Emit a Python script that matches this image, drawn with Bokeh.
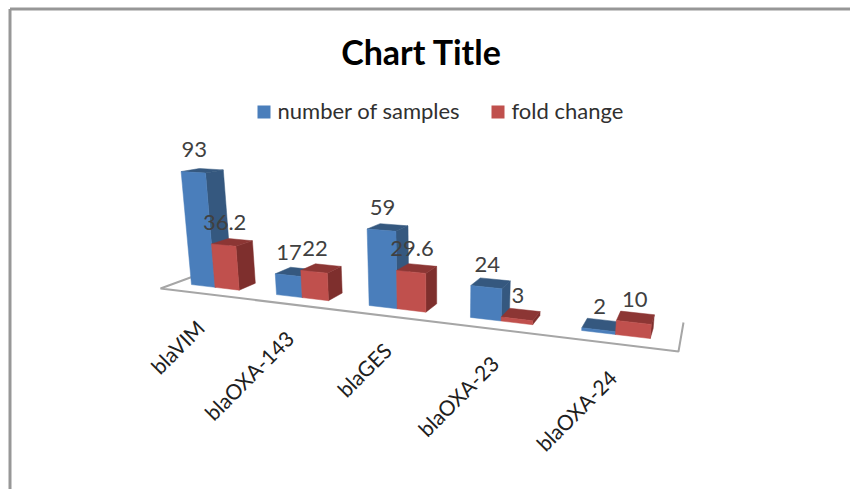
from bokeh.plotting import figure
from bokeh.models import Range1d
from bokeh.embed import file_html
from bokeh.resources import INLINE
from bokeh.core.properties import value
import numpy as np

# ---- chart data ----
categories = ["blaVIM", "blaOXA-143", "blaGES", "blaOXA-23", "blaOXA-24"]
number_of_samples = [93, 17, 59, 24, 2]
fold_change = [36.2, 22, 29.6, 3, 10]
value_labels_a = ["93", "17", "59", "24", "2"]
value_labels_b = ["36.2", "22", "29.6", "3", "10"]
legend_names = ["number of samples", "fold change"]
chart_title = "Chart Title"

# ---- 3-D view: floor corners on the page and the vertical vanishing point ----
FONT = "Lato"
FLOOR_SRC = [(0, 0), (5, 0), (5, 1), (0, 1)]
FLOOR_DST = [(160, 288), (678, 351), (683, 322), (209, 270)]
BLUE = ("#4A7EBB", "#35587F", "#35587F")
RED = ("#C0504D", "#7E2F2D", "#8C3634")
GAP = 1.5
D0, D1 = 0.30, 0.66
U_SHIFT = -0.025


def homography(src, dst):
    A, b = [], []
    for (u, v), (x, y) in zip(src, dst):
        A.append([u, v, 1, 0, 0, 0, -u * x, -v * x])
        A.append([0, 0, 0, u, v, 1, -u * y, -v * y])
        b += [x, y]
    h = np.linalg.solve(np.array(A, float), np.array(b, float))
    return np.append(h, 1).reshape(3, 3)


H = homography(FLOOR_SRC, FLOOR_DST)
W0 = (H @ np.array([0.5, 0.5, 1]))[2]
VERT = -np.array([440.0, 3000.0, 1.0]) * (1.17 * W0 / (3000.0 - 260.0))


def project(u, d, z):
    q = H @ np.array([u, d, 1.0]) + z * VERT
    return q[0] / q[2], q[1] / q[2]


def box(u0, u1, z):
    c = project
    front = [c(u0, D0, 0), c(u1, D0, 0), c(u1, D0, z), c(u0, D0, z)]
    side = [c(u1, D0, 0), c(u1, D1, 0), c(u1, D1, z), c(u1, D0, z)]
    top = [c(u0, D0, z), c(u1, D0, z), c(u1, D1, z), c(u0, D1, z)]
    return front, side, top


p = figure(width=850, height=489, output_backend="svg", toolbar_location=None,
           x_range=Range1d(0, 850), y_range=Range1d(489, 0), min_border=0,
           outline_line_color=None, background_fill_color="white", border_fill_color="white")
p.axis.visible = False
p.grid.visible = False

# chart frame
p.line([9.5, 9.5], [489, 8.5], line_color="#979797", line_width=3)
p.line([9.5, 850], [8.5, 8.5], line_color="#979797", line_width=3)

# floor
floor = [project(0, 1, 0), project(0, 0, 0), project(5, 0, 0), project(5, 1, 0)]
p.line([q[0] for q in floor], [q[1] for q in floor], line_color="#A6A6A6", line_width=2)

# bars
bw = 1 / (2 + GAP)
off = GAP * bw / 2 + U_SHIFT
labels = []
for i, (a, b) in enumerate(zip(number_of_samples, fold_change)):
    for k, (val, cols, txt) in enumerate(((a, BLUE, value_labels_a[i]), (b, RED, value_labels_b[i]))):
        u0 = i + off + k * bw
        u1 = u0 + bw
        front, side, top = box(u0, u1, val)
        for face, col in ((side, cols[1]), (top, cols[2]), (front, cols[0])):
            p.patch([q[0] for q in face], [q[1] for q in face], fill_color=col, line_color=col, line_width=0.5)
        cx, cy = project((u0 + u1) / 2, D0, val)
        labels.append((cx + 1, cy - 23, txt))

p.text([l[0] for l in labels], [l[1] for l in labels], text=[l[2] for l in labels],
       text_font=value(FONT), text_font_size="22px", text_color="#404040",
       text_align="center", text_baseline="middle")

# category labels
cat_pts = [project(i + 0.5, 0, 0) for i in range(len(categories))]
p.text([q[0] - 2 for q in cat_pts], [q[1] + 30 for q in cat_pts], text=categories,
       text_font=value(FONT), text_font_size="21px", text_color="#202020",
       text_align="right", text_baseline="middle", angle=45, angle_units="deg")

# title
p.text([421], [51], text=[chart_title], text_font=value(FONT), text_font_size="34px",
       text_font_style="bold", text_color="black", text_align="center", text_baseline="middle")

# legend
p.quad(left=[257, 491], right=[270, 504], top=[105, 105], bottom=[118, 118],
       fill_color=[BLUE[0], RED[0]], line_color=None)
p.text([277, 511], [110, 110], text=legend_names, text_font=value(FONT), text_font_size="22px",
       text_color="#303030", text_align="left", text_baseline="middle")

open("out.html", "w").write(file_html(p, INLINE))
